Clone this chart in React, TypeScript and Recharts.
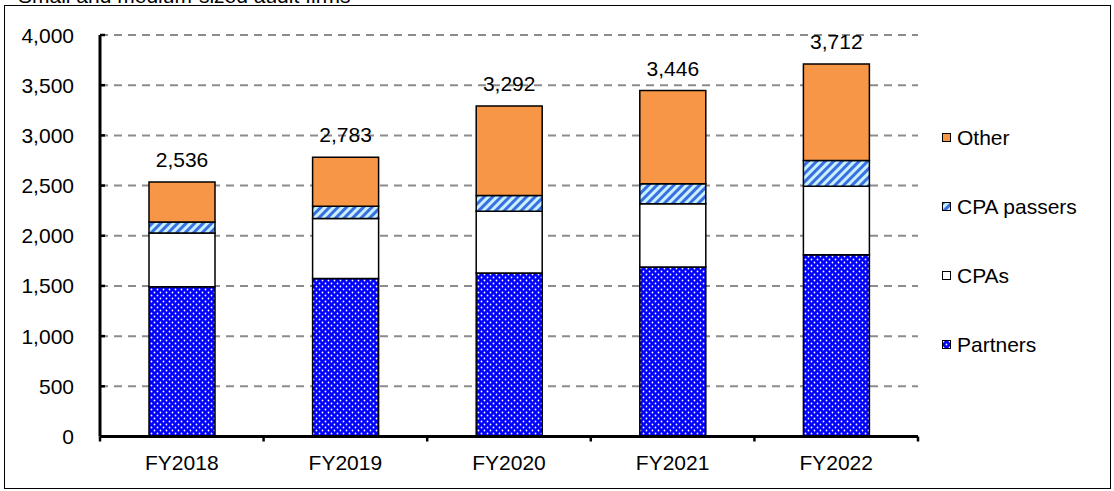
import React from 'react';
import { BarChart, Bar, XAxis, YAxis, CartesianGrid, Legend, LabelList } from 'recharts';

const title = 'Small and medium-sized audit firms';
const categories = ['FY2018', 'FY2019', 'FY2020', 'FY2021', 'FY2022'];
const partners = [1493, 1574, 1629, 1689, 1811];
const cpas = [534, 598, 616, 629, 682];
const cpaPassers = [109, 122, 155, 199, 256];
const other = [400, 489, 892, 929, 963];
const yTicks = [0, 500, 1000, 1500, 2000, 2500, 3000, 3500, 4000];

const seriesNames = ['Partners', 'CPAs', 'CPA passers', 'Other'];
const legendOrder = ['other', 'passers', 'cpas', 'partners'];
const legendLabels: Record<string, string> = {
  partners: seriesNames[0],
  cpas: seriesNames[1],
  passers: seriesNames[2],
  other: seriesNames[3],
};

const data = categories.map((c, i) => ({
  name: c,
  partners: partners[i],
  cpas: cpas[i],
  passers: cpaPassers[i],
  other: other[i],
  total: partners[i] + cpas[i] + cpaPassers[i] + other[i],
}));

const W = 1114;
const H = 491;
const LEFT = 100;
const RIGHT_MARGIN = 196;
const PLOT_W = W - LEFT - RIGHT_MARGIN;
const HALF_BAND = PLOT_W / categories.length / 2;
const FONT = '"Liberation Sans", Arial, sans-serif';
const FS = 21;

const fills: Record<string, string> = {
  partners: 'url(#dotsBlue)',
  cpas: '#ffffff',
  passers: 'url(#stripesBlue)',
  other: '#F79646',
};

const fmt = (v: number) => Number(v).toLocaleString('en-US');

const YTick = (props: any) => {
  const { x, y, payload } = props;
  return (
    <g>
      <line x1={x + 26} x2={x + 31} y1={y} y2={y} stroke="#000" strokeWidth={2.5} />
      <text x={x} y={y + 7.5} textAnchor="end" fontSize={FS} fontFamily={FONT} fill="#000">
        {fmt(payload.value)}
      </text>
    </g>
  );
};

const XTick = (props: any) => {
  const { x, y, payload, index } = props;
  const last = index === categories.length - 1;
  return (
    <g>
      <line x1={x - HALF_BAND} x2={x - HALF_BAND} y1={y} y2={y + 5} stroke="#000" strokeWidth={2.5} />
      {last && (
        <line x1={x + HALF_BAND} x2={x + HALF_BAND} y1={y} y2={y + 5} stroke="#000" strokeWidth={2.5} />
      )}
      <text x={x} y={y + 33.5} textAnchor="middle" fontSize={FS} fontFamily={FONT} fill="#000">
        {payload.value}
      </text>
    </g>
  );
};

const TotalLabel = (props: any) => {
  const { x, y, width, value } = props;
  return (
    <text x={x + width / 2} y={y - 15} textAnchor="middle" fontSize={FS} fontFamily={FONT} fill="#000">
      {fmt(value)}
    </text>
  );
};

const LegendContent = () => (
  <div style={{ fontFamily: FONT, fontSize: FS, color: '#000' }}>
    {legendOrder.map((k) => (
      <div key={k} style={{ height: 69, display: 'flex', alignItems: 'center' }}>
        <svg width={10} height={10} style={{ marginRight: 5 }}>
          <rect x={0.5} y={0.5} width={8} height={8} fill={fills[k]} stroke="#000" strokeWidth={1} />
        </svg>
        <span>{legendLabels[k]}</span>
      </div>
    ))}
  </div>
);

export default function App() {
  return (
    <div style={{ position: 'absolute', left: 0, top: 0, width: W, height: H, background: '#fff' }}>
      <svg width={W} height={H} style={{ position: 'absolute', left: 0, top: 0 }}>
        <defs>
          <pattern id="dotsBlue" width={6} height={6} patternUnits="userSpaceOnUse">
            <rect width={6} height={6} fill="#0000FF" />
            <circle cx={1.5} cy={1.5} r={0.9} fill="#ffffff" />
            <circle cx={4.5} cy={4.5} r={0.9} fill="#ffffff" />
          </pattern>
          <pattern id="stripesBlue" width={6} height={6} patternUnits="userSpaceOnUse" patternTransform="rotate(45)">
            <rect width={6} height={6} fill="#C8F0FF" />
            <rect width={3} height={6} fill="#3A6FE0" />
          </pattern>
        </defs>
        <rect x={4.5} y={5.5} width={1106} height={483} fill="none" stroke="#000" strokeWidth={1} />
        <text x={18} y={3} fontSize={FS} fontFamily={FONT} fill="#000">
          {title}
        </text>
      </svg>
      <div style={{ position: 'absolute', left: 0, top: 0 }}>
        <BarChart
          width={W}
          height={H}
          data={data}
          margin={{ top: 35, right: RIGHT_MARGIN, bottom: 24.5, left: 0 }}
          barSize={66}
        >
          <CartesianGrid horizontal vertical={false} stroke="#8c8c8c" strokeWidth={2} strokeDasharray="8 6" />
          <XAxis
            dataKey="name"
            height={30}
            tickSize={0}
            tickMargin={0}
            tickLine={false}
            axisLine={{ stroke: '#000', strokeWidth: 3 }}
            tick={<XTick />}
            interval={0}
          />
          <YAxis
            width={LEFT}
            domain={[0, 4000]}
            ticks={yTicks}
            tickSize={0}
            tickMargin={26}
            tickLine={false}
            axisLine={{ stroke: '#000', strokeWidth: 3 }}
            tick={<YTick />}
            interval={0}
          />
          <Legend
            layout="vertical"
            align="center"
            verticalAlign="middle"
            content={<LegendContent />}
            wrapperStyle={{ left: 942, top: 103.5, width: 170 }}
          />
          <Bar dataKey="partners" name={seriesNames[0]} stackId="a" fill={fills.partners} stroke="#000" strokeWidth={1.5} isAnimationActive={false} />
          <Bar dataKey="cpas" name={seriesNames[1]} stackId="a" fill={fills.cpas} stroke="#000" strokeWidth={1.5} isAnimationActive={false} />
          <Bar dataKey="passers" name={seriesNames[2]} stackId="a" fill={fills.passers} stroke="#000" strokeWidth={1.5} isAnimationActive={false} />
          <Bar dataKey="other" name={seriesNames[3]} stackId="a" fill={fills.other} stroke="#000" strokeWidth={1.5} isAnimationActive={false}>
            <LabelList dataKey="total" position="top" content={<TotalLabel />} />
          </Bar>
        </BarChart>
      </div>
    </div>
  );
}
